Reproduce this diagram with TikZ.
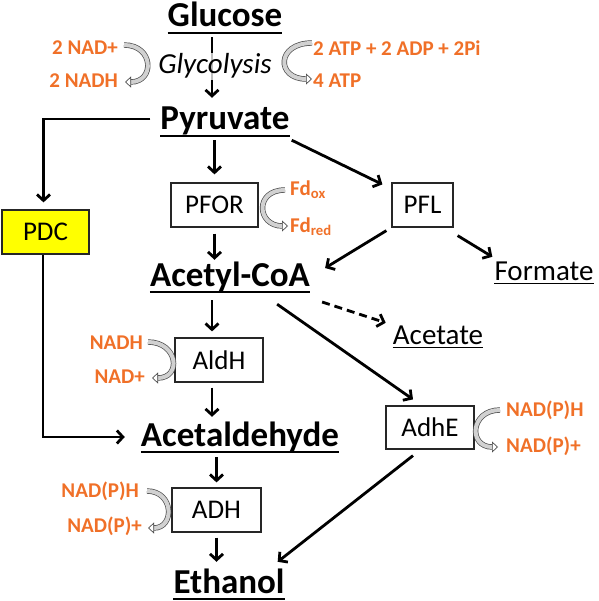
\documentclass[tikz,border=0pt]{standalone}
\usepackage{fontspec}
\setmainfont{Carlito}
\usetikzlibrary{arrows.meta,calc}
\definecolor{lab}{RGB}{240,112,40}
\definecolor{pdcy}{RGB}{255,255,0}
\tikzset{
 mainlab/.style={font=\bfseries\fontsize{35}{40}\selectfont, inner sep=0pt, text height=23pt, text depth=7pt, anchor=base},
 minorlab/.style={font=\fontsize{29}{34}\selectfont, inner sep=0pt, text height=18pt, text depth=5pt, anchor=base},
 enz/.style={draw=black!85, line width=1.2pt, fill=white, inner sep=0pt, minimum height=44pt, font=\fontsize{27}{32}\selectfont},
 cof/.style={font=\bfseries\fontsize{21}{25}\selectfont, text=lab, inner sep=0pt},
 arr/.style={line width=2.8pt, -{Straight Barb[length=6pt,width=13pt]}},
 ul/.style={line width=2.4pt},
 ulthin/.style={line width=1.5pt},
 cyc/.style={draw=black!70, line width=0.7pt, double=black!18, double distance=4pt, -{Triangle[open, length=6pt, width=11pt]}},
}
\begin{document}
\begin{tikzpicture}[x=1pt,y=-1pt]
\path[use as bounding box] (0,0) rectangle (598,601);

% main metabolites
\node[mainlab] (glu) at (225,27) {Glucose};
\node[mainlab] (pyr) at (225,130) {Pyruvate};
\node[mainlab] (acoa) at (230,286) {Acetyl-CoA};
\node[mainlab] (acald) at (240,446) {Acetaldehyde};
\node[mainlab] (eth) at (229,593) {Ethanol};
\node[minorlab] (form) at (544,280) {Formate};
\node[minorlab] (acet) at (438,344) {Acetate};

% underlines
\foreach \n in {glu,pyr,acoa,acald,eth}
  \draw[ul] ([yshift=-6pt]\n.base west) -- ([yshift=-6pt]\n.base east);
\foreach \n in {form,acet}
  \draw[ulthin] ([yshift=-3.5pt]\n.base west) -- ([yshift=-3.5pt]\n.base east);

% enzymes
\node[enz, fill=pdcy, minimum width=87pt] (pdc) at (45.5,232) {PDC};
\node[enz, minimum width=87pt] (pfor) at (214.5,205) {PFOR};
\node[enz, minimum width=61pt] (pfl) at (422.5,205) {PFL};
\node[enz, minimum width=88pt] (aldh) at (219,360) {AldH};
\node[enz, minimum width=88pt, minimum height=43pt] (adhe) at (430,427.5) {AdhE};
\node[enz, minimum width=89pt] (adh) at (216.5,510) {ADH};

% cofactors
\node[cof, anchor=east] (nad1) at (118,48) {2 NAD+};
\node[cof, anchor=east] (nadh1) at (118,81) {2 NADH};
\node[cof, anchor=west] (atp1) at (313,48) {2 ATP + 2 ADP + 2Pi};
\node[cof, anchor=west] (atp2) at (313,81) {4 ATP};
\node[cof, anchor=west] (fdox) at (290,190) {Fd\textsubscript{ox}};
\node[cof, anchor=west] (fdred) at (290,227) {Fd\textsubscript{red}};
\node[cof, anchor=east] (nadh2) at (143,343) {NADH};
\node[cof, anchor=east] (nad2) at (145,377) {NAD+};
\node[cof, anchor=east] (nph1) at (139,491) {NAD(P)H};
\node[cof, anchor=east] (npp1) at (142,526) {NAD(P)+};
\node[cof, anchor=west] (nph2) at (506,410) {NAD(P)H};
\node[cof, anchor=west] (npp2) at (506,446) {NAD(P)+};

% main arrows
\draw[arr] ([xshift=-13pt,yshift=-3pt]glu.south) -- ([xshift=-13pt,yshift=9pt]pyr.north);
\node[font=\itshape\fontsize{29}{34}\selectfont, inner sep=1pt, anchor=base, fill=white, fill opacity=0.75, text opacity=1] (gly) at (215,74) {Glycolysis};
\draw[arr] ([xshift=-10pt,yshift=11pt]pyr.base west) -| ([xshift=-2pt,yshift=7pt]pdc.north);
\draw[arr] ($(pfor.north |- pyr.south)+(0,3)$) -- ($(pfor.north)+(0,-8)$);
\draw[arr] ([xshift=2pt,yshift=-3pt]pyr.south east) -- ([xshift=-9pt,yshift=-2pt]pfl.north west);
\draw[arr] ($(pfor.south)+(0,6)$) -- ($(pfor.south |- acoa.north)+(0,-3)$);
\draw[arr] ([xshift=-5pt,yshift=-3pt]pfl.south west) -- ([xshift=15pt,yshift=18pt]acoa.base east);
\draw[arr] ([xshift=4pt,yshift=-8pt]pfl.south east) -- ([xshift=-2pt,yshift=5pt]form.north west);
\draw[arr, dash pattern=on 8pt off 5pt] ([xshift=12pt,yshift=-16pt]acoa.base east) -- ([xshift=-7pt,yshift=3pt]acet.north west);
\draw[arr] ($(aldh.north |- acoa.south)+(-7,7)$) -- ($(aldh.north)+(-7,-6)$);
\draw[arr] ($(aldh.south)+(-7,5)$) -- ($(aldh.south |- acald.north)+(-7,-6)$);
\draw[arr] ($(acoa.south east)+(-33,11)$) -- ($(adhe.north)+(-17,-6)$);
\draw[arr] ($(adhe.south)+(-17,6)$) -- ($(eth.north east)+(-7,-8)$);
\draw[arr] ($(pdc.south)+(-2.5,0)$) |- ($(acald.base west)+(-16,-9)$);
\draw[arr] ($(adh.north |- acald.south)+(0,4)$) -- ($(adh.north)+(0,-5)$);
\draw[arr] ($(adh.south)+(0,5)$) -- ($(adh.south |- eth.north)+(0,-8)$);

% cofactor curved arrows
\draw[cyc] ($(nad1.east)+(6,-3)$) .. controls +(30,0) and +(30,0) .. ($(nadh1.east)+(7,1)$);
\draw[cyc] ($(atp1.west)+(-1,-5)$) .. controls +(-36,0) and +(-36,0) .. ($(atp2.west)+(-1,-2)$);
\draw[cyc] ($(fdox.west)+(-5,0)$) .. controls +(-31,0) and +(-31,0) .. ($(fdred.west)+(-2,-1)$);
\draw[cyc] ($(nadh2.east)+(5,-1)$) .. controls +(30,0) and +(30,0) .. ($(nad2.east)+(7,1)$);
\draw[cyc] ($(nph1.east)+(8,0)$) .. controls +(27,0) and +(27,0) .. ($(npp1.east)+(6,2)$);
\draw[cyc] ($(nph2.west)+(-6,0)$) .. controls +(-30,0) and +(-30,0) .. ($(npp2.west)+(-8,1)$);
\end{tikzpicture}
\end{document}
